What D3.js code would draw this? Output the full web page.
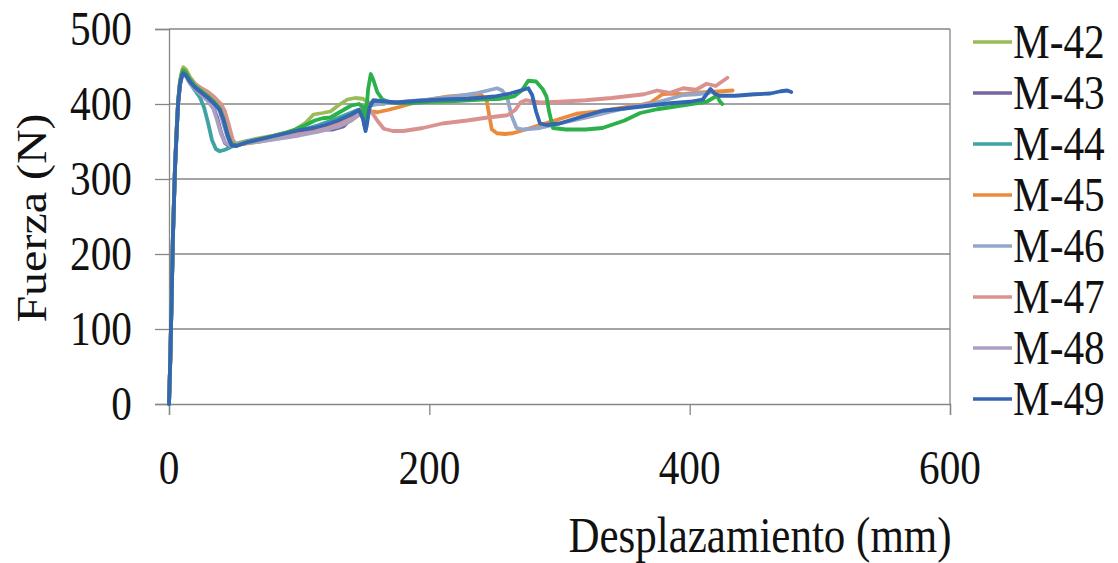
<!DOCTYPE html>
<html><head><meta charset="utf-8">
<script src="https://cdn.jsdelivr.net/npm/d3@7"></script>
<style>html,body{margin:0;padding:0;background:#fff;}svg{display:block;}
text{font-family:"Liberation Serif","Times New Roman",serif;}</style>
</head><body>
<svg id="chart" width="1118" height="563"></svg>
<script>
// ---- data ----
const seriesNames = ["M-42","M-43","M-44","M-45","M-46","M-47","M-48","M-49"];
const xTicks = [0,200,400,600];
const yTicks = [0,100,200,300,400,500];
const xTitle = "Desplazamiento (mm)";
const yTitle = "Fuerza (N)";

const m42 = [[0,0],[1,60],[2,140],[3,225],[4.6,318],[6,372],[7,405],[8.5,432],[10,445],[11,449],[13,446],[16,436],[20,427],[25,419],[30,411],[35,404],[39,396],[42,385],[45,368],[48,352],[51,346],[55,349],[65,353],[80,358],[95,364],[105,375],[111,386],[118,388],[124,390],[130,398],[137,406],[143,408],[149,407],[152,403],[158,401],[165,400]];
const m43 = [[0,0],[1,60],[2,140],[3,222],[4.6,315],[6,368],[7,402],[8.5,428],[10,440],[11,444],[13,441],[16,431],[20,421],[25,413],[30,404],[34,395],[37,382],[40,362],[43,348],[46,344],[50,346],[60,350],[75,355],[90,360],[105,364],[118,366],[126,366],[134,370],[140,380],[146,390],[150,396],[155,400],[160,403],[166,402]];
const m44 = [[0,0],[1,58],[2,138],[3,220],[4.6,312],[6,366],[7,400],[8.5,426],[10,438],[11,442],[13,438],[16,428],[20,418],[24,408],[27,395],[30,375],[33,352],[36,340],[39,337],[43,339],[48,343],[55,348],[70,353],[85,358],[100,364],[115,372],[125,378],[135,385],[145,392],[152,396]];
const m45 = [[0,0],[1,60],[2,140],[3,224],[4.6,316],[6,370],[7,403],[8.5,430],[10,442],[11,446],[13,443],[16,434],[20,426],[25,420],[30,414],[35,406],[40,398],[43,388],[46,368],[49,350],[52,345],[58,347],[70,350],[85,355],[100,360],[115,364],[130,370],[140,378],[148,388],[155,390],[160,389],[168,392],[177,396],[185,400],[200,406],[215,410],[230,412],[240,412],[244,405],[246,385],[248,366],[252,361],[258,360],[264,361],[272,365],[285,372],[300,380],[313,387],[330,390],[345,394],[360,398],[370,402],[375,408],[379,413],[385,414],[395,413],[405,415],[415,416],[425,417],[433,418]];
const m46 = [[0,0],[1,60],[2,140],[3,222],[4.6,314],[6,367],[7,401],[8.5,428],[10,440],[11,444],[13,441],[16,432],[20,423],[25,416],[30,408],[35,400],[39,390],[42,372],[45,355],[48,346],[52,347],[60,350],[75,355],[90,360],[105,366],[120,372],[135,380],[145,390],[155,398],[165,401],[180,403],[200,406],[220,410],[235,414],[245,418],[252,421],[256,418],[260,408],[263,385],[267,368],[272,366],[285,368],[300,374],[321,382],[340,390],[355,396],[370,400],[385,407],[395,412],[405,413],[415,415]];
const m47 = [[0,0],[1,60],[2,140],[3,223],[4.6,316],[6,370],[7,403],[8.5,430],[10,441],[11,445],[13,442],[16,434],[20,427],[25,421],[30,416],[35,409],[40,400],[43,390],[46,372],[49,352],[52,346],[58,348],[70,352],[85,357],[100,362],[115,366],[128,372],[138,380],[145,390],[150,395],[155,391],[160,378],[165,367],[172,364],[180,364],[195,368],[210,374],[229,378],[245,382],[260,385],[266,392],[270,402],[274,405],[285,402],[300,403],[320,405],[340,408],[355,411],[365,413],[375,418],[385,415],[395,421],[405,419],[413,427],[420,424],[429,435]];
const m48 = [[0,0],[1,58],[2,138],[3,220],[4.6,313],[6,366],[7,400],[8.5,426],[10,437],[11,440],[13,437],[16,428],[20,420],[25,412],[30,404],[34,394],[37,378],[40,360],[43,349],[47,345],[55,347],[70,350],[85,354],[100,358],[115,363],[130,370],[140,378],[147,388],[152,392]];
const m49 = [[0,0],[1,60],[2,140],[3,222],[4.6,314],[6,367],[7,401],[8.5,427],[10,438],[11,441],[13,438],[16,430],[20,422],[25,415],[30,408],[35,400],[39,392],[42,378],[45,358],[48,345],[52,344],[60,349],[75,355],[90,361],[100,365],[111,368],[120,372],[130,378],[140,386],[146,392],[149,380],[151,364],[152,372],[154,395],[157,405],[162,404],[175,402],[190,404],[210,406],[230,407],[250,410],[262,414],[270,418],[276,421],[279,412],[282,390],[285,374],[290,372],[300,374],[315,382],[333,391],[350,394],[370,398],[385,401],[400,403],[410,406],[416,420],[419,414],[423,411],[435,411],[450,413],[462,414],[470,417],[475,418],[478,416]];
// unlabelled bright green trace visible in the plot
const extraGreen = [[0,0],[1,60],[2,140],[3,223],[4.6,315],[6,369],[7,402],[8.5,429],[10,441],[11,445],[13,442],[16,433],[20,424],[25,417],[30,410],[35,402],[39,394],[42,380],[45,360],[48,347],[52,345],[60,349],[75,355],[90,362],[97,366],[105,372],[112,378],[118,381],[124,382],[132,390],[140,398],[146,400],[149,396],[150,372],[151,380],[153,420],[155,440],[157,432],[160,416],[164,406],[170,402],[185,401],[200,403],[220,404],[240,406],[255,407],[265,410],[271,418],[276,431],[282,430],[287,420],[290,410],[292,390],[295,368],[305,366],[320,366],[333,368],[350,378],[362,388],[375,393],[390,397],[405,401],[413,403],[418,408],[421,411],[423,404],[425,400]];

const seriesData = [m42,m43,m44,m45,m46,m47,m48,m49];
const seriesColors = ["#9bbb59","#77639f","#3fa3a6","#ec8a3c","#93a7cb","#d9928f","#aba0c2","#3566b2"];
const extraColor = "#2bb04a";

// ---- layout ----
const svg = d3.select("#chart");
const L = 169, R = 950, T = 29, B = 404;
const x = d3.scaleLinear().domain([0,600]).range([L,R]);
const y = d3.scaleLinear().domain([0,500]).range([B,T]);
const SX = 0.86;

// gridlines
svg.append("g").selectAll("line").data(yTicks.filter(d=>d>0)).join("line")
  .attr("x1",L).attr("x2",R).attr("y1",d=>y(d)).attr("y2",d=>y(d))
  .attr("stroke","#868686").attr("stroke-width",1.3);

// right border
svg.append("line").attr("x1",R).attr("x2",R).attr("y1",T).attr("y2",B)
  .attr("stroke","#868686").attr("stroke-width",1.3);

// axes
const yAxis = d3.axisLeft(y).tickValues(yTicks).tickSize(14).tickFormat("");
const xAxis = d3.axisBottom(x).tickValues(xTicks).tickSize(11).tickFormat("");
const gy = svg.append("g").attr("transform",`translate(${L},0)`).call(yAxis);
const gx = svg.append("g").attr("transform",`translate(0,${B})`).call(xAxis);
[gy,gx].forEach(g=>{
  g.select(".domain").attr("stroke","#868686").attr("stroke-width",1.3);
  g.selectAll(".tick line").attr("stroke","#868686").attr("stroke-width",1.3);
});

function label(tx,ty,str,anchor,size,rot){
  const g = svg.append("g").attr("transform",`translate(${tx},${ty})${rot?` rotate(${rot})`:""}`);
  g.append("text").attr("transform", rot ? `scale(1,${SX})` : `scale(${SX},1)`)
   .attr("text-anchor",anchor).style("font-size",size+"px")
   .attr("fill","#111").text(str);
}
yTicks.forEach(v=>label(132, y(v)+16, String(v), "end", 48));
xTicks.forEach(v=>label(x(v), 484, String(v), "middle", 48));
label(760, 552, xTitle, "middle", 50);
label(46, 218, yTitle, "middle", 48, -90);

// lines
const line = d3.line().x(d=>x(d[0])).y(d=>y(d[1]));
const plot = svg.append("g");
function drawSeries(data,color){
  plot.append("path").datum(data).attr("d",line)
    .attr("fill","none").attr("stroke",color).attr("stroke-width",3.8)
    .attr("stroke-linejoin","round").attr("stroke-linecap","round");
}
[0,1,2,3,4,5,6].forEach(i=>drawSeries(seriesData[i],seriesColors[i]));
drawSeries(extraGreen, extraColor);
drawSeries(seriesData[7], seriesColors[7]);

// legend
const legY0 = 42, legDY = 51;
seriesNames.forEach((n,i)=>{
  const ly = legY0 + i*legDY;
  svg.append("line").attr("x1",973).attr("x2",1012).attr("y1",ly).attr("y2",ly)
    .attr("stroke",seriesColors[i]).attr("stroke-width",3.5);
  label(1013, ly+16, n, "start", 48);
});
</script>
</body></html>
